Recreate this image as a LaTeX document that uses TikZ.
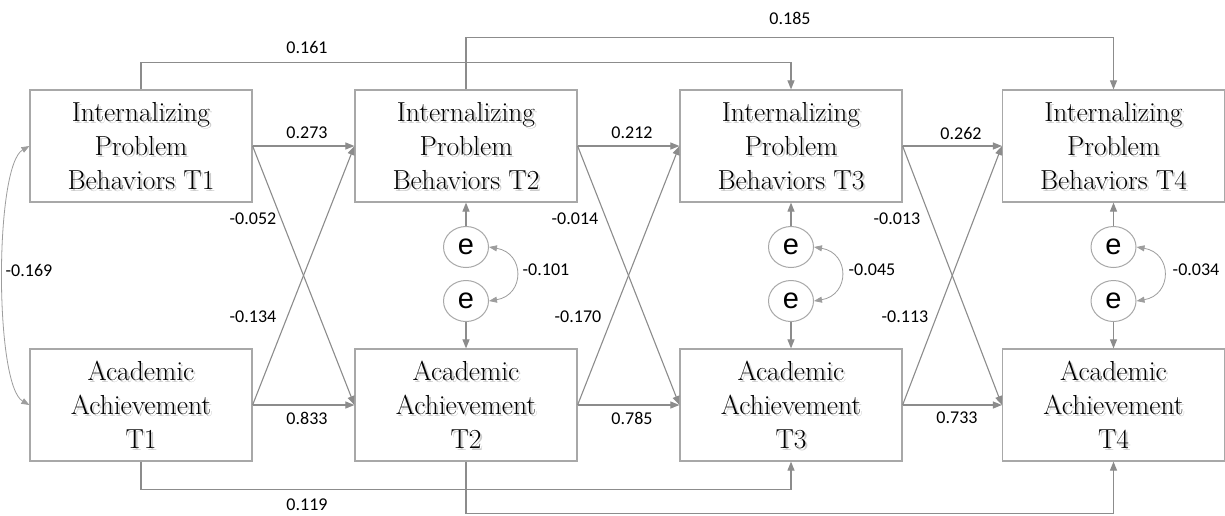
\documentclass[tikz,border=0pt]{standalone}
\usepackage{fontspec}
\newfontfamily\lblfont{Carlito}
\newfontfamily\efont{Liberation Sans}
\usetikzlibrary{arrows.meta,shapes.geometric}
\definecolor{linegray}{RGB}{140,140,140}
\definecolor{boxgray}{RGB}{168,168,168}
\newcommand\mkbox[3]{%
  \node[box] (#1) at (#2) {};
  \node[shadowtext, xshift=2pt, yshift=-2pt] (#1s) at (#2) {#3};
  \node[boxtext] (#1t) at (#2) {#3};}
\begin{document}
\begin{tikzpicture}[x=1pt,y=-1pt,
  box/.style={draw=boxgray, line width=1.2pt, minimum width=222pt, minimum height=112pt, inner sep=0pt},
  boxtext/.style={align=center, font=\rmfamily\addfontfeatures{FakeBold=0.5}\fontsize{27.5}{34}\selectfont, text=black, inner sep=0pt},
  shadowtext/.style={boxtext, text opacity=0.2},
  conn/.style={draw=linegray, line width=1.1pt, -{Triangle[length=9pt,width=7pt]}},
  cov/.style={draw=linegray!85, line width=0.8pt, {Triangle[length=8pt,width=6pt]}-{Triangle[length=8pt,width=6pt]}},
  err/.style={draw=boxgray, line width=1pt, ellipse, minimum width=45pt, minimum height=41pt, inner sep=0pt, font=\efont\fontsize{29}{29}\selectfont},
  lbl/.style={font=\lblfont\fontsize{18}{18}\selectfont, inner sep=0pt}
]
\useasboundingbox (0,0) rectangle (1225,515);
\fill[white] (0,0) rectangle (1225,515);

\mkbox{I1}{141,146}{Internalizing\\Problem\\Behaviors T1}
\mkbox{I2}{466,146}{Internalizing\\Problem\\Behaviors T2}
\mkbox{I3}{791,146}{Internalizing\\Problem\\Behaviors T3}
\mkbox{I4}{1113.5,146}{Internalizing\\Problem\\Behaviors T4}
\mkbox{A1}{141,405}{Academic\\Achievement\\T1}
\mkbox{A2}{466,405}{Academic\\Achievement\\T2}
\mkbox{A3}{791,405}{Academic\\Achievement\\T3}
\mkbox{A4}{1113.5,405}{Academic\\Achievement\\T4}

% residuals
\node[err] (eu2) at (466,247) {e};
\node[err] (el2) at (466,301) {e};
\node[err] (eu3) at (791,247) {e};
\node[err] (el3) at (791,301) {e};
\node[err] (eu4) at (1113.5,247) {e};
\node[err] (el4) at (1113.5,301) {e};
\foreach \k in {2,3,4}{
  \draw[conn] (eu\k.north) -- (I\k.south);
  \draw[conn] (el\k.south) -- (A\k.north);
  \draw[cov] (eu\k.east) .. controls +(36,6) and +(36,-6) .. (el\k.east);
}
\node[lbl] (c2) at (546,270) {-0.101};
\node[lbl] (c3) at (872,270) {-0.045};
\node[lbl] (c4) at (1196,270) {-0.034};

% T1 covariance
\draw[cov] (I1.west) .. controls +(-35,20) and +(-35,-20) .. (A1.west);
\node[lbl] (c1) at (29,270) {-0.169};

% autoregressive and cross paths
\foreach \a/\b in {1/2,2/3,3/4}{
  \draw[conn] (I\a.east) -- (I\b.west);
  \draw[conn] (A\a.east) -- (A\b.west);
  \draw[conn] (I\a.east) -- (A\b.west);
  \draw[conn] (A\a.east) -- (I\b.west);
}
\node[lbl] (p1) at (307,133) {0.273};
\node[lbl] (p2) at (307,418) {0.833};
\node[lbl] (p3) at (253,219) {-0.052};
\node[lbl] (p4) at (253,317) {-0.134};
\node[lbl] (q1) at (632,133) {0.212};
\node[lbl] (q2) at (632,418) {0.785};
\node[lbl] (q3) at (575,219) {-0.014};
\node[lbl] (q4) at (578,317) {-0.170};
\node[lbl] (r1) at (961,133) {0.262};
\node[lbl] (r2) at (957,418) {0.733};
\node[lbl] (r3) at (897,219) {-0.013};
\node[lbl] (r4) at (905,317) {-0.113};

% lag-2 paths
\draw[conn] (I1.north) -- ++(0,-27) -| (I3.north);
\node[lbl] (l1) at (307,47) {0.161};
\draw[conn] (I2.north) -- ++(0,-52) -| (I4.north);
\node[lbl] (l2) at (790,18) {0.185};
\draw[conn] (A1.south) -- ++(0,28) -| (A3.south);
\node[lbl] (l3) at (307,505) {0.119};
\draw[conn] (A2.south) -- ++(0,52) -| (A4.south);
\end{tikzpicture}
\end{document}
